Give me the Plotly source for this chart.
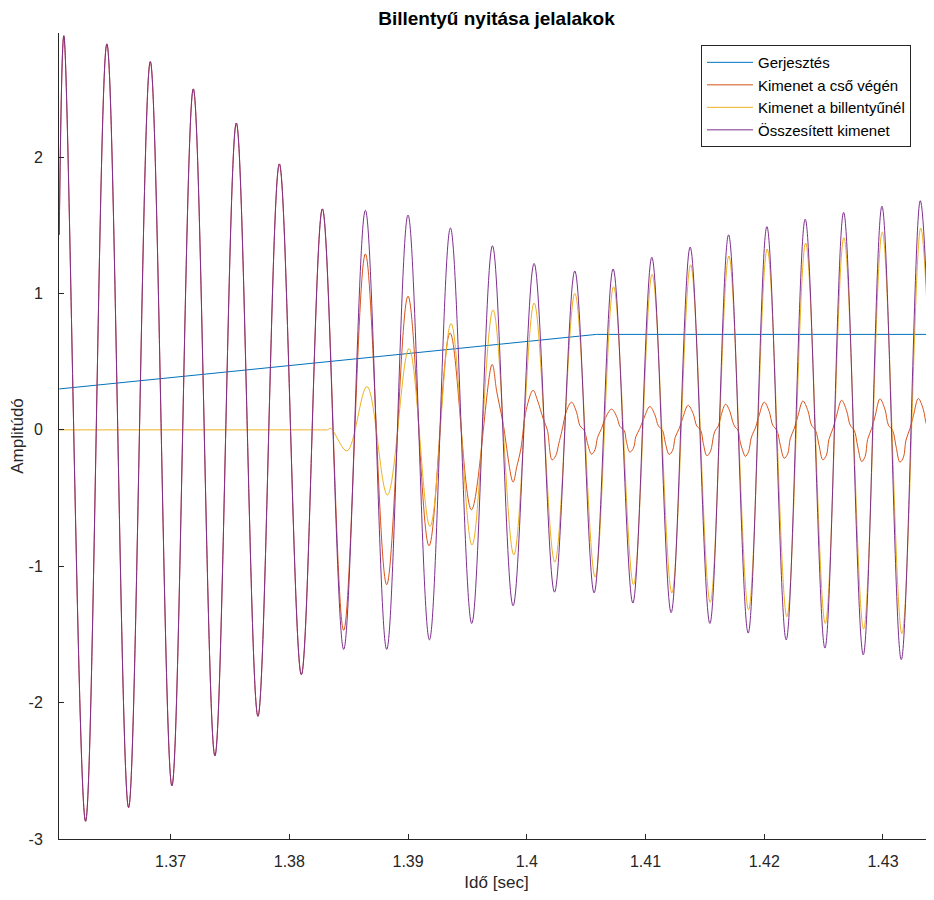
import plotly.graph_objects as go

# ---- data (seconds, amplitude) ----
t_exc = [1.36062, 1.40587, 1.43430]
v_exc = [0.30, 0.70, 0.70]

t_tot = [1.36062, 1.361008, 1.362837, 1.364632, 1.366461, 1.368289, 1.370110,
         1.371913, 1.373733, 1.375537, 1.377357, 1.379160, 1.381014, 1.382784,
         1.384579, 1.386407, 1.388202, 1.389997, 1.391801, 1.393570, 1.395365,
         1.397110, 1.398846, 1.400615, 1.402335, 1.404045, 1.405672, 1.407273,
         1.408933, 1.410534, 1.412160, 1.413761, 1.415422, 1.416997, 1.418649,
         1.420225, 1.421851, 1.423452, 1.425113, 1.426688, 1.428341, 1.429916,
         1.431543, 1.433144, 1.43430]
v_tot = [1.43, 2.89, -2.87, 2.83, -2.77, 2.70, -2.61,
         2.50, -2.39, 2.25, -2.10, 1.95, -1.795, 1.62,
         -1.61, 1.61, -1.61, 1.575, -1.54, 1.48, -1.42,
         1.35, -1.29, 1.22, -1.19, 1.165, -1.195, 1.18,
         -1.27, 1.265, -1.34, 1.34, -1.42, 1.43, -1.49,
         1.49, -1.54, 1.545, -1.60, 1.595, -1.65, 1.64,
         -1.685, 1.68, -0.61]

t_pipe = [1.36062, 1.361008, 1.362837, 1.364632, 1.366461, 1.368289, 1.370110,
          1.371913, 1.373733, 1.375537, 1.377357, 1.379160, 1.381014, 1.382784,
          1.384579, 1.386407, 1.388202, 1.389997, 1.39177, 1.39354, 1.39534,
          1.39708, 1.39747, 1.39798, 1.39885, 1.39916, 1.39950, 1.39996, 1.40053,
          1.40089, 1.40139, 1.40173, 1.40213, 1.40244, 1.40270, 1.40295, 1.40335,
          1.40377, 1.40419, 1.40448, 1.40484, 1.40512, 1.40545, 1.40575, 1.40596, 1.40630, 1.40659,
          1.40714, 1.40756, 1.40785, 1.40821, 1.40840, 1.40868, 1.40898, 1.40919, 1.40952, 1.40982,
          1.41037, 1.41079, 1.41108, 1.41144, 1.41167, 1.41199, 1.41229, 1.41250, 1.41284, 1.41313,
          1.41359, 1.41401, 1.41431, 1.41466, 1.41487, 1.41517, 1.41546, 1.41582, 1.41616, 1.41637,
          1.41675, 1.41713, 1.41734, 1.41755, 1.41778, 1.41798, 1.41826, 1.41841, 1.41868, 1.41890,
          1.41910, 1.41924, 1.41953,
          1.42000, 1.42042, 1.42071, 1.42107, 1.42135, 1.42168, 1.42198, 1.42219, 1.42253, 1.42282,
          1.42326, 1.42368, 1.42398, 1.42433, 1.42461, 1.42494, 1.42524, 1.42545, 1.42579, 1.42608,
          1.42652, 1.42694, 1.42724, 1.42759, 1.42787, 1.42821, 1.42850, 1.42871, 1.42905, 1.42934,
          1.42975, 1.43017, 1.43046, 1.43082, 1.43110, 1.43143, 1.43173, 1.43194, 1.43228, 1.43257,
          1.43298, 1.43340, 1.43369, 1.43405, 1.43430]
v_pipe = [1.43, 2.89, -2.87, 2.83, -2.77, 2.70, -2.61,
          2.50, -2.39, 2.25, -2.10, 1.95, -1.795, 1.62,
          -1.47, 1.29, -1.135, 0.98, -0.85, 0.71, -0.586,
          0.48, 0.28, 0.06, -0.383, -0.27, -0.14, 0.15, 0.29,
          0.22, 0.08, 0.0, -0.22, -0.19, -0.10, -0.01, 0.14,
          0.203, 0.13, 0.03, -0.005, -0.10, -0.178, -0.145, -0.055, 0.01, 0.08,
          0.152, 0.10, 0.025, -0.005, -0.09, -0.163, -0.135, -0.05, 0.01, 0.075,
          0.171, 0.11, 0.03, -0.005, -0.095, -0.18, -0.15, -0.055, 0.01, 0.085,
          0.18, 0.12, 0.03, -0.005, -0.10, -0.19, -0.16, -0.015, 0.034, 0.107,
          0.188, 0.13, 0.06, 0.02, 0.0, -0.09, -0.17, -0.195, -0.16, -0.06,
          -0.015, 0.01, 0.095,
          0.203, 0.135, 0.035, -0.005, -0.11, -0.208, -0.175, -0.065, 0.01, 0.095,
          0.212, 0.14, 0.035, -0.005, -0.11, -0.22, -0.185, -0.07, 0.01, 0.10,
          0.217, 0.14, 0.035, -0.005, -0.12, -0.232, -0.195, -0.07, 0.01, 0.10,
          0.227, 0.15, 0.035, -0.005, -0.12, -0.237, -0.20, -0.075, 0.01, 0.105,
          0.23, 0.15, 0.035, -0.005, -0.09]

t_key = [1.36062, 1.38200, 1.38300, 1.38323, 1.38348, 1.38486, 1.38654, 1.38826, 1.39008, 1.39185,
         1.39362, 1.39539, 1.39716, 1.39891, 1.40062, 1.40236, 1.40405, 1.40576,
         1.40731, 1.40899, 1.41056, 1.41222, 1.41380, 1.41545, 1.41702, 1.41868,
         1.42025, 1.42191, 1.42349, 1.42514, 1.42671, 1.42837, 1.42994, 1.43160,
         1.43318, 1.43430]
v_key = [0.0, 0.0, 0.0, 0.0, 0.012, -0.154, 0.317, -0.478, 0.596, -0.708,
         0.78, -0.845, 0.88, -0.916, 0.93, -0.97, 1.00, -1.08,
         1.05, -1.135, 1.14, -1.196, 1.21, -1.265, 1.275, -1.32,
         1.326, -1.37, 1.37, -1.42, 1.41, -1.46, 1.45, -1.495,
         1.48, -0.5]

series_names = ["Gerjesztés", "Kimenet a cső végén", "Kimenet a billentyűnél", "Összesített kimenet"]
series_colors = ["#0072BD", "#D95319", "#EDB120", "#7E2F8E"]

x_tickvals = [1.37, 1.38, 1.39, 1.40, 1.41, 1.42, 1.43]
x_ticktext = ["1.37", "1.38", "1.39", "1.4", "1.41", "1.42", "1.43"]
y_tickvals = [-3, -2, -1, 0, 1, 2]
y_ticktext = ["-3", "-2", "-1", "0", "1", "2"]

FONT = "Liberation Sans, Arial, Helvetica, sans-serif"
AX = "#262626"

fig = go.Figure()
data = [(t_exc, v_exc, "linear"), (t_pipe, v_pipe, "spline"),
        (t_key, v_key, "spline"), (t_tot, v_tot, "spline")]
for (tx, vy, shape), name, col in zip(data, series_names, series_colors):
    fig.add_trace(go.Scatter(x=tx, y=vy, mode="lines", name=name,
                             line=dict(color=col, width=1, shape=shape)))

# the page body adds an 8px offset, so the figure is placed at (8, 8)
fig.update_layout(
    width=926, height=884,
    margin=dict(l=51, r=0, t=25, b=53, autoexpand=False),
    paper_bgcolor="white", plot_bgcolor="white",
    font=dict(family=FONT, color=AX, size=13),
    title=dict(text="<b>Billentyű nyitása jelalakok</b>", x=0.5, xref="paper", xanchor="center",
               y=1 - 10 / 884, yanchor="middle", yref="container", automargin=False,
               font=dict(family=FONT, size=19, color="black")),
    showlegend=True,
    legend=dict(x=0.7337, y=0.985, xanchor="left", yanchor="top",
                bordercolor=AX, borderwidth=1, bgcolor="white",
                font=dict(family=FONT, size=15, color="black"),
                itemwidth=46, tracegroupgap=0),
)
fig.update_xaxes(range=[1.36060, 1.43430], tickvals=x_tickvals, ticktext=x_ticktext,
                 automargin=False,
                 ticks="inside", ticklen=5, tickcolor=AX, showline=True, linecolor=AX,
                 linewidth=1, showgrid=False, zeroline=False, ticklabelstandoff=8,
                 tickfont=dict(size=16, color=AX),
                 title=dict(text="Idő [sec]", font=dict(size=17, color=AX), standoff=8))
fig.update_yaxes(range=[-3, 2.91], tickvals=y_tickvals, ticktext=y_ticktext,
                 automargin=False,
                 ticks="inside", ticklen=5, tickcolor=AX, showline=True, linecolor=AX,
                 linewidth=1, showgrid=False, zeroline=False, ticklabelstandoff=12,
                 tickfont=dict(size=16, color=AX),
                 title=dict(text="Amplitúdó", font=dict(size=17, color=AX), standoff=12))

fig.write_html("out.html")
